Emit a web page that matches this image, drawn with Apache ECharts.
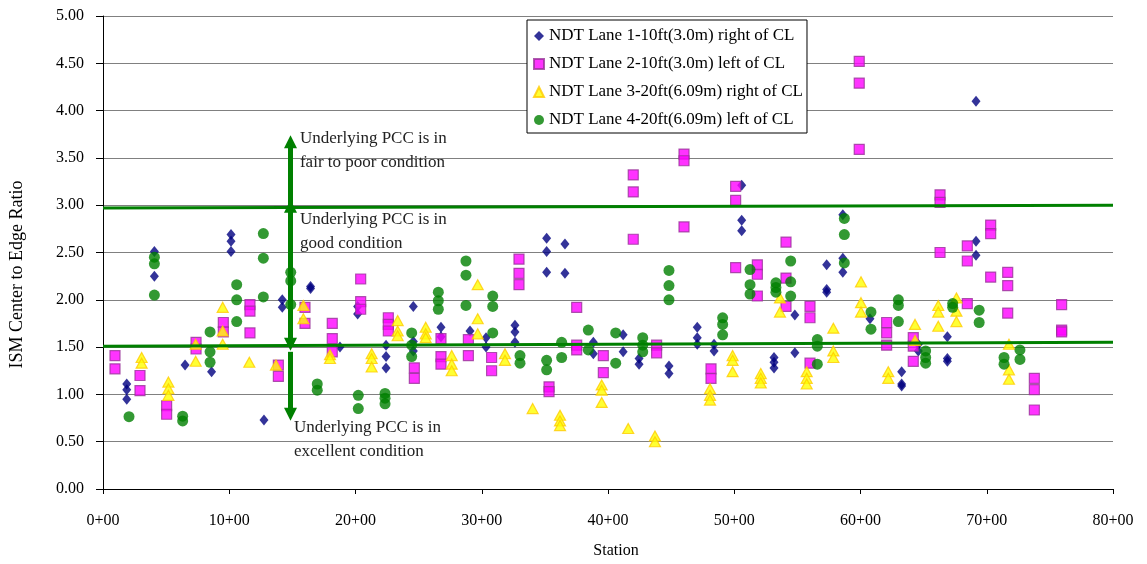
<!DOCTYPE html>
<html>
<head>
<meta charset="utf-8">
<script src="https://cdn.jsdelivr.net/npm/echarts@6/dist/echarts.min.js"></script>
<style>html,body{margin:0;padding:0;background:#fff}#c{width:1147px;height:564px}</style>
</head>
<body>
<div id="c"></div>
<script>
// ---- data (station in units of 100 ft, i.e. "xx+00") ----
const seriesNames = [
  'NDT Lane 1-10ft(3.0m) right of CL',
  'NDT Lane 2-10ft(3.0m) left of CL',
  'NDT Lane 3-20ft(6.09m) right of CL',
  'NDT Lane 4-20ft(6.09m) left of CL'
];
const lane1 = [
  [1.88,1.11],[1.88,1.05],[1.88,0.95],[4.07,2.51],[4.07,2.25],[6.5,1.31],[8.6,1.24],
  [10.14,2.69],[10.14,2.62],[10.14,2.51],[12.75,0.73],[14.2,2.0],[14.2,1.92],
  [16.44,2.14],[16.44,2.12],[18.77,1.50],[20.17,1.93],[20.17,1.85],
  [22.42,1.52],[22.42,1.40],[22.42,1.28],[24.58,1.93],[24.58,1.56],[24.58,1.46],
  [26.77,1.71],[26.77,1.61],[29.07,1.67],[30.34,1.60],[30.34,1.50],
  [32.63,1.73],[32.63,1.66],[32.63,1.55],[35.14,2.65],[35.14,2.51],[35.14,2.29],
  [36.59,2.59],[36.59,2.28],[38.84,1.55],[38.84,1.43],[41.2,1.63],[41.2,1.45],
  [42.46,1.38],[42.46,1.32],[44.83,1.30],[44.83,1.22],
  [47.07,1.71],[47.07,1.60],[47.07,1.53],[48.4,1.53],[48.4,1.46],
  [50.59,3.21],[50.59,2.84],[50.59,2.73],[53.15,1.39],[53.15,1.34],[53.15,1.28],
  [54.8,1.84],[54.8,1.44],[57.32,2.37],[57.32,2.11],[57.32,2.08],
  [58.6,2.90],[58.6,2.44],[58.6,2.29],[60.75,1.80],
  [63.26,1.24],[63.26,1.11],[63.26,1.09],[64.58,1.53],[64.58,1.46],
  [66.88,1.61],[66.88,1.38],[66.88,1.35],[69.15,4.10],[69.15,2.62],[69.15,2.47]
];
const lane2 = [
  [0.95,1.41],[0.95,1.27],[2.93,1.20],[2.93,1.04],[5.04,0.88],[5.04,0.79],
  [7.37,1.55],[7.37,1.48],[9.53,1.76],[9.53,1.66],[11.64,1.95],[11.64,1.88],[11.64,1.65],
  [13.89,1.31],[13.89,1.19],[16.0,1.92],[16.0,1.75],[18.16,1.75],[18.16,1.59],[18.16,1.45],
  [20.41,2.22],[20.41,1.98],[20.41,1.90],[22.6,1.81],[22.6,1.74],[22.6,1.67],
  [24.66,1.28],[24.66,1.17],[26.77,1.59],[26.77,1.40],[26.77,1.32],[28.94,1.58],[28.94,1.41],
  [30.78,1.39],[30.78,1.25],[32.95,2.43],[32.95,2.28],[32.95,2.16],[35.33,1.08],[35.33,1.03],
  [37.52,1.92],[37.52,1.52],[37.52,1.47],[39.63,1.41],[39.63,1.23],
  [42.0,3.32],[42.0,3.14],[42.0,2.64],[43.85,1.52],[43.85,1.44],
  [46.02,3.54],[46.02,3.47],[46.02,2.77],[48.16,1.27],[48.16,1.17],
  [50.11,3.20],[50.11,3.05],[50.11,2.34],[51.83,2.37],[51.83,2.27],[51.83,2.04],
  [54.1,2.61],[54.1,2.23],[54.1,1.93],[56.0,1.93],[56.0,1.81],[56.0,1.33],
  [59.9,4.52],[59.9,4.29],[59.9,3.59],[62.07,1.76],[62.07,1.65],[62.07,1.52],
  [64.18,1.60],[64.18,1.51],[64.18,1.35],[66.3,3.11],[66.3,3.03],[66.3,2.50],
  [68.46,2.57],[68.46,2.41],[68.46,1.96],[70.31,2.79],[70.31,2.70],[70.31,2.24],
  [71.66,2.29],[71.66,2.15],[71.66,1.86],[73.77,1.17],[73.77,1.05],[73.77,0.835],
  [75.93,1.95],[75.93,1.68],[75.93,1.66]
];
const lane3 = [
  [3.06,1.39],[3.06,1.33],[5.18,1.13],[5.18,1.06],[5.18,0.99],[7.34,1.53],[7.34,1.35],
  [9.48,1.92],[9.48,1.67],[9.48,1.53],[11.59,1.34],[13.7,1.31],[15.87,1.94],[15.87,1.80],
  [17.98,1.42],[17.98,1.38],[21.28,1.43],[21.28,1.38],[21.28,1.29],
  [23.34,1.78],[23.34,1.67],[23.34,1.62],[25.56,1.71],[25.56,1.64],[25.56,1.60],
  [27.62,1.41],[27.62,1.32],[27.62,1.25],[29.68,2.16],[29.68,1.80],[29.68,1.64],
  [31.84,1.43],[31.84,1.36],[34.03,0.85],[36.2,0.78],[36.2,0.72],[36.2,0.67],
  [39.5,1.10],[39.5,1.045],[39.5,0.915],[41.6,0.64],[43.72,0.56],[43.72,0.50],
  [48.08,1.06],[48.08,0.99],[48.08,0.94],[49.87,1.41],[49.87,1.36],[49.87,1.24],
  [52.1,1.22],[52.1,1.17],[52.1,1.12],[53.62,2.02],[53.62,1.87],
  [55.74,1.24],[55.74,1.17],[55.74,1.11],[57.85,1.70],[57.85,1.46],[57.85,1.39],
  [60.04,2.19],[60.04,1.97],[60.04,1.87],[62.2,1.24],[62.2,1.17],[64.32,1.74],[64.32,1.57],
  [66.16,1.94],[66.16,1.87],[66.16,1.72],[67.6,2.02],[67.6,1.88],[67.6,1.77],
  [71.76,1.53],[71.76,1.26],[71.76,1.16]
];
const lane4 = [
  [2.06,0.765],[4.07,2.45],[4.07,2.38],[4.07,2.05],[6.31,0.77],[6.31,0.72],
  [8.48,1.66],[8.48,1.45],[8.48,1.34],[10.59,2.16],[10.59,2.0],[10.59,1.77],
  [12.7,2.70],[12.7,2.44],[12.7,2.03],[14.87,2.29],[14.87,2.20],[14.87,1.95],
  [16.97,1.11],[16.97,1.045],[20.22,0.99],[20.22,0.85],[22.34,1.01],[22.34,0.96],[22.34,0.90],
  [24.45,1.65],[24.45,1.52],[24.45,1.40],[26.56,2.08],[26.56,1.99],[26.56,1.90],
  [28.75,2.41],[28.75,2.26],[28.75,1.94],[30.87,2.04],[30.87,1.93],[30.87,1.65],
  [33.03,1.41],[33.03,1.33],[35.14,1.36],[35.14,1.26],[36.33,1.55],[36.33,1.39],
  [38.44,1.68],[38.44,1.47],[40.61,1.65],[40.61,1.33],[42.75,1.60],[42.75,1.52],[42.75,1.45],
  [44.83,2.31],[44.83,2.15],[44.83,2.0],[49.08,1.81],[49.08,1.74],[49.08,1.63],
  [51.25,2.32],[51.25,2.16],[51.25,2.06],[53.3,2.18],[53.3,2.13],[53.3,2.08],
  [54.47,2.41],[54.47,2.19],[54.47,2.04],[56.58,1.58],[56.58,1.51],[56.58,1.32],
  [58.72,2.86],[58.72,2.69],[58.72,2.39],[60.83,1.87],[60.83,1.69],
  [63.0,2.0],[63.0,1.94],[63.0,1.77],[65.16,1.46],[65.16,1.39],[65.16,1.33],
  [67.3,1.96],[67.3,1.92],[69.4,1.89],[69.4,1.76],[71.37,1.39],[71.37,1.32],
  [72.63,1.47],[72.63,1.37]
];
// threshold lines: [value at station 0, value at station 80]
const upperThreshold = [2.97, 3.00];
const lowerThreshold = [1.51, 1.55];
const xRange = [0, 80];
// condition annotations
const annotationTexts = [
  'Underlying PCC is in\nfair to poor condition',
  'Underlying PCC is in\ngood condition',
  'Underlying PCC is in\nexcellent condition'
];
const annotationAnchors = [[15.6, 3.58], [15.6, 2.72], [15.13, 0.52]];
// arrows at station 14.85: [from, to, double-headed]
const arrowStation = 14.85;
const arrowSpans = [[2.97, 3.67, false], [1.53, 2.99, true], [1.45, 0.79, false]];

const FONT = 'Liberation Serif';
const GREEN = '#008000';
const chart = echarts.init(document.getElementById('c'), null, {renderer: 'canvas'});

const markerStyles = [
  {symbol: 'diamond', symbolSize: [9, 11], itemStyle: {color: '#000080'}},
  {symbol: 'rect', symbolSize: 10, itemStyle: {color: '#FF00FF', borderColor: '#993399', borderWidth: 1.2}},
  {symbol: 'triangle', symbolSize: [11, 10], itemStyle: {color: '#FFFF00', borderColor: '#FFCC00', borderWidth: 1.2}},
  {symbol: 'circle', symbolSize: 11, itemStyle: {color: GREEN}}
];
const laneData = [lane1, lane2, lane3, lane4];

const series = laneData.map((d, i) => Object.assign({
  name: seriesNames[i], type: 'scatter', data: d, z: 2 + i,
  emphasis: {disabled: true}, animation: false
}, markerStyles[i]));

series.push({
  type: 'line', name: 'upper', data: [[xRange[0], upperThreshold[0]], [xRange[1], upperThreshold[1]]],
  showSymbol: false, symbol: 'none', lineStyle: {color: GREEN, width: 3}, z: 10, animation: false, silent: true
});
series.push({
  type: 'line', name: 'lower', data: [[xRange[0], lowerThreshold[0]], [xRange[1], lowerThreshold[1]]],
  showSymbol: false, symbol: 'none', lineStyle: {color: GREEN, width: 3}, z: 10, animation: false, silent: true
});
series.push({
  type: 'scatter', name: 'annot', data: [], z: 11, silent: true, animation: false,
  markLine: {
    silent: true, animation: false,
    symbol: ['none', 'triangle'], symbolSize: [13, 13],
    lineStyle: {color: GREEN, width: 5, type: 'solid'},
    label: {show: false},
    data: arrowSpans.map(s => [
      {coord: [arrowStation, s[0]], symbol: s[2] ? 'triangle' : 'none', symbolSize: [13, 13]},
      {coord: [arrowStation, s[1]], symbol: 'triangle', symbolSize: [13, 13]}
    ])
  },
  markPoint: {
    silent: true, animation: false, symbol: 'circle', symbolSize: 0,
    label: {
      show: true, position: 'right', distance: 0, align: 'left',
      fontFamily: FONT, fontSize: 17, lineHeight: 24, color: '#222',
      formatter: p => p.name
    },
    data: annotationTexts.map((t, i) => ({name: t, coord: annotationAnchors[i]}))
  }
});

chart.setOption({
  animation: false,
  backgroundColor: '#fff',
  textStyle: {fontFamily: FONT},
  grid: {left: 103, right: 34, top: 16, bottom: 71, containLabel: false},
  legend: {
    data: seriesNames, orient: 'vertical', left: 527, top: 20,
    padding: [7, 4, 4, 6], itemWidth: 10, itemHeight: 10, itemGap: 10,
    backgroundColor: '#fff', borderColor: '#000', borderWidth: 1,
    textStyle: {fontFamily: FONT, fontSize: 17, color: '#000', lineHeight: 18},
    selectedMode: false
  },
  xAxis: {
    type: 'value', min: 0, max: 80, interval: 10,
    name: 'Station', nameLocation: 'middle', nameGap: 54,
    nameTextStyle: {fontFamily: FONT, fontSize: 16, color: '#000', padding: [0, 0, 0, 16]},
    axisLine: {show: true, onZero: false, lineStyle: {color: '#000', width: 1}},
    axisTick: {show: true, inside: false, length: 5, lineStyle: {color: '#000'}},
    axisLabel: {fontFamily: FONT, fontSize: 16, color: '#000', margin: 24, formatter: v => v + '+00'},
    splitLine: {show: false}
  },
  yAxis: {
    type: 'value', min: 0, max: 5, interval: 0.5,
    name: 'ISM Center to Edge Ratio', nameLocation: 'middle', nameGap: 77,
    nameTextStyle: {fontFamily: FONT, fontSize: 18, color: '#000', padding: [0, 44, 0, 0]},
    axisLine: {show: true, lineStyle: {color: '#000', width: 1}},
    axisTick: {show: true, inside: false, length: 7, lineStyle: {color: '#000'}},
    axisLabel: {fontFamily: FONT, fontSize: 16, color: '#000', margin: 19, formatter: v => v.toFixed(2)},
    splitLine: {show: true, lineStyle: {color: '#808080', width: 1}}
  },
  series: series
});
</script>
</body>
</html>
